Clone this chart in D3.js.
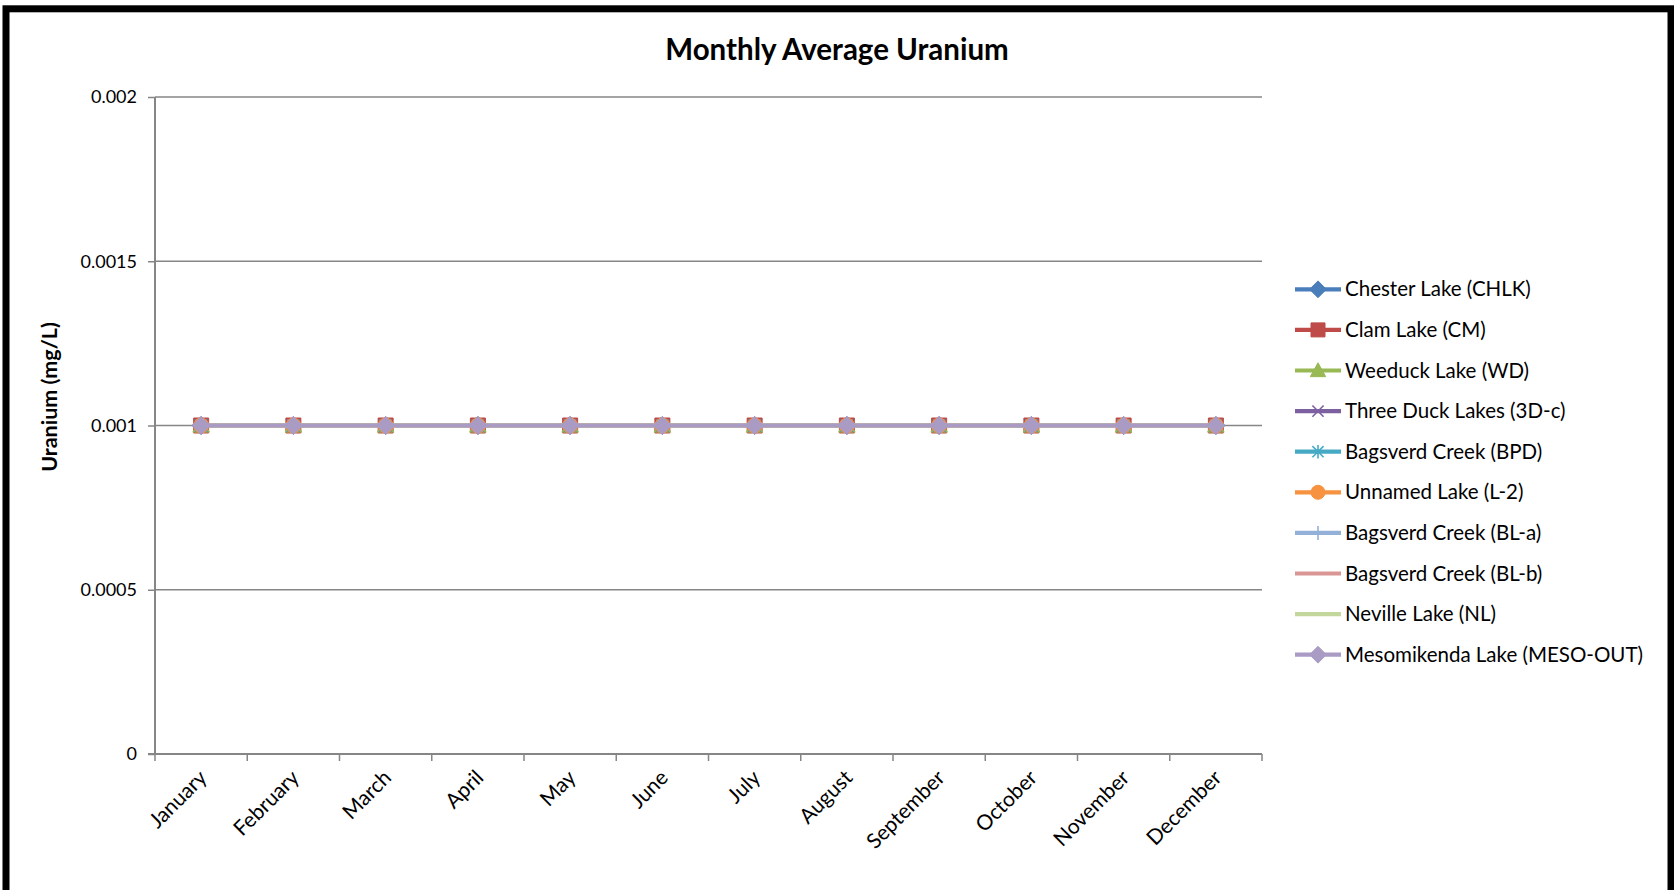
<!DOCTYPE html>
<html><head><meta charset="utf-8">
<script src="https://cdn.jsdelivr.net/npm/d3@7/dist/d3.min.js"></script>
<style>html,body{margin:0;padding:0;background:#fff;overflow:hidden}svg{display:block}</style>
</head><body>
<script>
const months = ["January","February","March","April","May","June","July","August","September","October","November","December"];
const seriesNames = ["Chester Lake (CHLK)","Clam Lake (CM)","Weeduck Lake (WD)","Three Duck Lakes (3D-c)","Bagsverd Creek (BPD)","Unnamed Lake (L-2)","Bagsverd Creek (BL-a)","Bagsverd Creek (BL-b)","Neville Lake (NL)","Mesomikenda Lake (MESO-OUT)"];
const chesterLake   = [0.001,0.001,0.001,0.001,0.001,0.001,0.001,0.001,0.001,0.001,0.001,0.001];
const clamLake      = [0.001,0.001,0.001,0.001,0.001,0.001,0.001,0.001,0.001,0.001,0.001,0.001];
const weeduckLake   = [0.001,0.001,0.001,0.001,0.001,0.001,0.001,0.001,0.001,0.001,0.001,0.001];
const threeDuck     = [0.001,0.001,0.001,0.001,0.001,0.001,0.001,0.001,0.001,0.001,0.001,0.001];
const bagsverdBPD   = [0.001,0.001,0.001,0.001,0.001,0.001,0.001,0.001,0.001,0.001,0.001,0.001];
const unnamedL2     = [0.001,0.001,0.001,0.001,0.001,0.001,0.001,0.001,0.001,0.001,0.001,0.001];
const bagsverdBLa   = [0.001,0.001,0.001,0.001,0.001,0.001,0.001,0.001,0.001,0.001,0.001,0.001];
const bagsverdBLb   = [0.001,0.001,0.001,0.001,0.001,0.001,0.001,0.001,0.001,0.001,0.001,0.001];
const nevilleLake   = [0.001,0.001,0.001,0.001,0.001,0.001,0.001,0.001,0.001,0.001,0.001,0.001];
const mesomikenda   = [0.001,0.001,0.001,0.001,0.001,0.001,0.001,0.001,0.001,0.001,0.001,0.001];
const yTicks = [0, 0.0005, 0.001, 0.0015, 0.002];
const yTickLabels = ["0","0.0005","0.001","0.0015","0.002"];

const seriesValues = [chesterLake,clamLake,weeduckLake,threeDuck,bagsverdBPD,unnamedL2,bagsverdBLa,bagsverdBLb,nevilleLake,mesomikenda];
const colors = ["#4A7EBB","#BE4B48","#98B954","#7D60A0","#46AAC5","#F69240","#93B0D8","#D99694","#C3D69B","#A99BC4"];
const markers = ["diamond","square","triangle","x","star","circle","plus","none","none","diamond"];

const W = 1674, H = 890;
const svg = d3.select("body").append("svg").attr("width", W).attr("height", H);
const FONT = "Lato, 'Open Sans', sans-serif";

// frame
svg.append("rect").attr("x", 6).attr("y", 8.8).attr("width", 1665).attr("height", 920)
  .attr("fill", "#fff").attr("stroke", "#000").attr("stroke-width", 7);

const plot = {left:155, right:1262, top:97, bottom:754};
const x = d3.scaleBand().domain(months).range([plot.left, plot.right]).padding(0);
const y = d3.scaleLinear().domain([0, 0.002]).range([plot.bottom, plot.top]);

// title
svg.append("text").attr("x", 837).attr("y", 60).attr("text-anchor","middle")
  .attr("font-family", FONT).attr("font-weight","bold").attr("font-size", 29.5).attr("fill","#000")
  .text("Monthly Average Uranium");

// gridlines
svg.append("g").selectAll("line").data(yTicks.filter(d => d > 0)).join("line")
  .attr("x1", plot.left).attr("x2", plot.right)
  .attr("y1", d => y(d)).attr("y2", d => y(d))
  .attr("stroke", "#868686").attr("stroke-width", 1.3);

// y axis
const yAxis = d3.axisLeft(y).tickValues(yTicks).tickSize(7).tickPadding(11)
  .tickFormat((d,i) => yTickLabels[i]);
const gy = svg.append("g").attr("transform", `translate(${plot.left},0)`).call(yAxis);
gy.select(".domain").attr("stroke","#868686").attr("stroke-width",2).attr("d", `M0,${plot.top}V${plot.bottom}`);
gy.selectAll(".tick line").attr("stroke","#868686").attr("stroke-width",1.5);
gy.selectAll(".tick text").attr("font-family", FONT).attr("font-size", 18).attr("fill","#000");

// x axis
const gx = svg.append("g").attr("transform", `translate(0,${plot.bottom})`);
gx.append("line").attr("x1", plot.left - 7).attr("x2", plot.right).attr("y1",0).attr("y2",0)
  .attr("stroke","#868686").attr("stroke-width",2);
const bounds = months.map(m => x(m)).concat([x(months[months.length-1]) + x.bandwidth()]);
gx.selectAll("line.tk").data(bounds).join("line").attr("class","tk")
  .attr("x1", d => d).attr("x2", d => d).attr("y1", 0).attr("y2", 7)
  .attr("stroke","#868686").attr("stroke-width",1.5);
gx.selectAll("text").data(months).join("text")
  .attr("transform", d => `translate(${x(d) + x.bandwidth()/2 + 7},${25}) rotate(-45)`)
  .attr("text-anchor","end")
  .attr("font-family", FONT).attr("font-size", 21).attr("fill","#000")
  .text(d => d);

// y axis title
svg.append("text").attr("transform", `translate(57,397) rotate(-90)`).attr("text-anchor","middle")
  .attr("font-family", FONT).attr("font-weight","bold").attr("font-size", 21.5).attr("fill","#000")
  .text("Uranium (mg/L)");

function markerPath(type, s) {
  const p = d3.path();
  if (type === "diamond") { const r = s*0.6; p.moveTo(0,-r); p.lineTo(r,0); p.lineTo(0,r); p.lineTo(-r,0); p.closePath(); }
  else if (type === "square") { const r = s*0.5; p.rect(-r,-r,2*r,2*r); }
  else if (type === "triangle") { const r = s*0.55; p.moveTo(0,-r); p.lineTo(r,r*0.8); p.lineTo(-r,r*0.8); p.closePath(); }
  else if (type === "circle") { p.arc(0,0,s*0.5,0,2*Math.PI); }
  else if (type === "x") { const r = s*0.4; p.moveTo(-r,-r); p.lineTo(r,r); p.moveTo(r,-r); p.lineTo(-r,r); }
  else if (type === "star") { const r = s*0.4; p.moveTo(-r,-r); p.lineTo(r,r); p.moveTo(r,-r); p.lineTo(-r,r); p.moveTo(0,-r*1.2); p.lineTo(0,r*1.2); }
  else if (type === "plus") { const r = s*0.5; p.moveTo(0,-r); p.lineTo(0,r); p.moveTo(-r,0); p.lineTo(r,0); }
  return p.toString();
}
const openMarkers = new Set(["x","star","plus"]);
function drawMarker(g, type, color, s) {
  if (type === "none") return;
  g.append("path").attr("d", markerPath(type, s))
    .attr("fill", openMarkers.has(type) ? "none" : color)
    .attr("stroke", color).attr("stroke-width", openMarkers.has(type) ? 1.6 : 1);
}

// series
const line = d3.line().x((d,i) => x(months[i]) + x.bandwidth()/2).y(d => y(d));
seriesValues.forEach((vals, si) => {
  const g = svg.append("g");
  g.append("path").datum(vals).attr("d", line).attr("fill","none")
    .attr("stroke", colors[si]).attr("stroke-width", 4.2).attr("stroke-linejoin","round");
  vals.forEach((v, i) => {
    const mg = g.append("g").attr("transform", `translate(${x(months[i]) + x.bandwidth()/2},${y(v)})`);
    drawMarker(mg, markers[si], colors[si], 15);
  });
});

// legend
const legend = svg.append("g");
seriesNames.forEach((name, i) => {
  const ly = 289.3 + i * 40.6;
  const g = legend.append("g").attr("transform", `translate(0,${ly})`);
  g.append("line").attr("x1",1295).attr("x2",1341).attr("y1",0).attr("y2",0)
    .attr("stroke", colors[i]).attr("stroke-width", 4.2);
  const mg = g.append("g").attr("transform","translate(1318,0)");
  drawMarker(mg, markers[i], colors[i], 14);
  g.append("text").attr("x",1345).attr("y",0).attr("dy","0.35em")
    .attr("font-family", FONT).attr("font-size", 20.5).attr("fill","#000").text(name);
});
</script>
</body></html>
